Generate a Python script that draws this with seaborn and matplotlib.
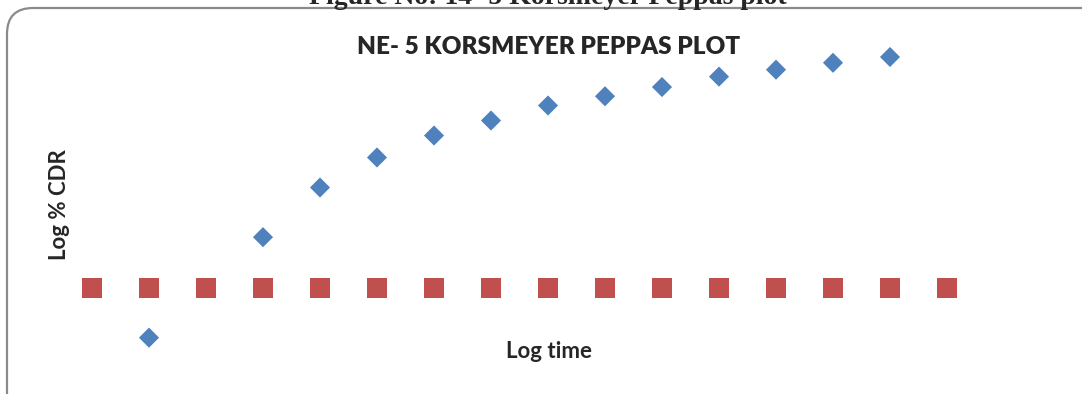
import numpy as np
import pandas as pd
import seaborn as sns
import matplotlib
matplotlib.use('Agg')
import matplotlib.pyplot as plt
from matplotlib.patches import FancyBboxPatch

# category positions (log time points, evenly spaced in the chart)
points = list(range(16))
# log % CDR (blue diamonds), None where no marker is drawn
log_cdr = [None, -0.43, None, 0.44, 0.87, 1.13, 1.32, 1.45, 1.58,
           1.66, 1.74, 1.83, 1.89, 1.95, 2.00, None]
# second series (red squares), flat at zero
baseline = [0.0] * 16

W, H = 1082, 394

if __name__ == '__main__':

  sns.set_style('white')
  plt.rcParams['font.family'] = ['Lato', 'DejaVu Sans']

  fig = plt.figure(figsize=(W / 100, H / 100), dpi=100)

  # rounded chart frame (excel style), drawn in pixels
  frame = FancyBboxPatch((7, -60), 1200, H - 8 + 60,
                         boxstyle='round,pad=0,rounding_size=26',
                         transform=None, facecolor='white',
                         edgecolor='#8a8a8a', linewidth=1.6, zorder=-5)
  fig.patches.append(frame)

  # caption cut at the top of the page
  fig.text(548 / W, 1 - 4 / H, 'Figure No: 14 -5 Korsmeyer Peppas plot',
           ha='center', va='baseline', fontsize=20, fontweight='bold',
           family=['Liberation Serif', 'DejaVu Serif'], zorder=-1)

  ax = fig.add_axes([70 / W, 19 / H, 900 / W, 345 / H])
  ax.patch.set_alpha(0)

  data = pd.DataFrame({'t': points, 'cdr': log_cdr, 'base': baseline})
  data['cdr'] = pd.to_numeric(data['cdr'])

  sns.scatterplot(data=data, x='t', y='base', marker='s', s=215,
                  color='#C0504D', edgecolor='none', ax=ax, zorder=2)
  sns.scatterplot(data=data, x='t', y='cdr', marker='D', s=105,
                  color='#4F81BD', edgecolor='none', ax=ax, zorder=3)

  ax.set_xlim((70 - 92) / 57, (970 - 92) / 57)
  ax.set_ylim((288 - 375) / 115.5, (288 - 30) / 115.5)
  ax.set_xticks([])
  ax.set_yticks([])
  sns.despine(ax=ax, top=True, right=True, left=True, bottom=True)
  ax.set_xlabel('')
  ax.set_ylabel('')

  fig.text(549 / W, 1 - 47 / H, 'NE- 5 KORSMEYER PEPPAS PLOT',
           ha='center', va='center', fontsize=17.5, fontweight='heavy')
  fig.text(549 / W, 1 - 352 / H, 'Log time',
           ha='center', va='center', fontsize=16, fontweight='bold')
  fig.text(60 / W, 1 - 205 / H, 'Log % CDR', rotation=90,
           ha='center', va='center', fontsize=16, fontweight='bold')

  fig.savefig('out.png', dpi=100)
